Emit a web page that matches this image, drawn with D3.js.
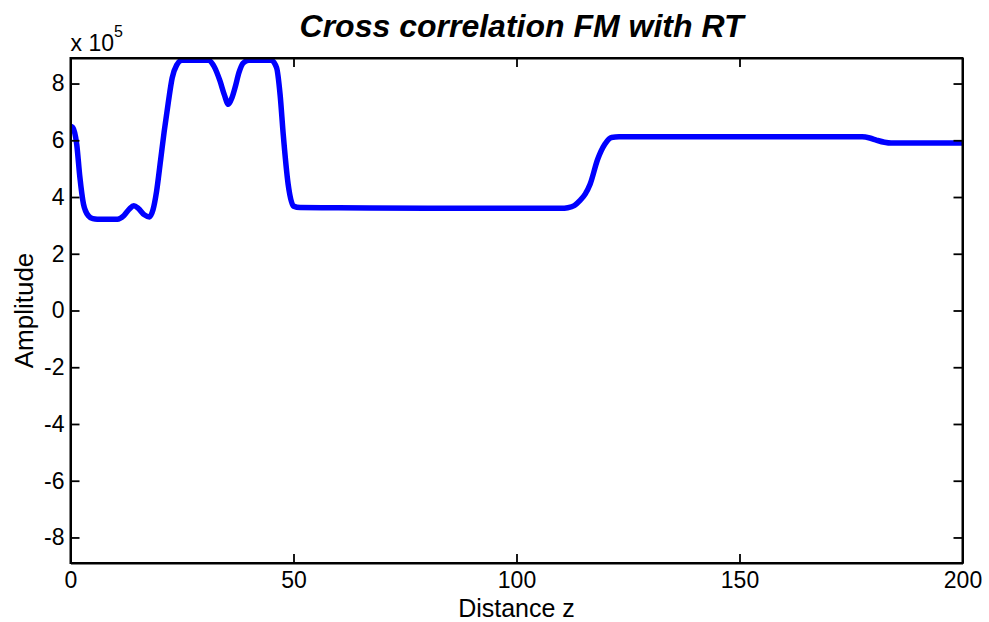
<!DOCTYPE html>
<html>
<head>
<meta charset="utf-8">
<script src="https://cdn.jsdelivr.net/npm/d3@7"></script>
<style>
  html, body { margin: 0; padding: 0; background: #fff; }
  svg { display: block; }
  text { font-family: "Liberation Sans", Arial, Helvetica, sans-serif; fill: #000; }
</style>
</head>
<body>
<svg id="chart" width="989" height="622"></svg>
<script>
// Cross-correlation amplitude (in units of 1e5) against distance z
const distanceZ = [0, 0.5, 1.4, 2.1, 2.9, 4, 5, 6, 10.5, 12, 13.2, 14.2, 15.2, 16.5, 17.7, 18.5, 19.3, 20.2, 21, 21.9, 22.8, 23.8, 25,
  30.9, 32.2, 33.5, 34.5, 35.4, 36.2, 36.9, 37.8, 38.7, 40,
  45, 46.2, 47, 47.7, 48.8, 50, 51.5, 60, 80, 100, 110, 111.5, 113, 114.2, 115.4, 116.5, 118.2, 119.8, 121.3, 123,
  150, 177.5, 179.2, 180.8, 182.5, 184, 190, 200];
const amplitude = [6.5, 6.45, 5.85, 4.7, 3.76, 3.34, 3.24, 3.22, 3.22, 3.35, 3.58, 3.69, 3.6, 3.38, 3.3, 3.55, 4.2, 5.3, 6.3, 7.3, 8.2, 8.65, 8.82,
  8.82, 8.6, 8.1, 7.6, 7.27, 7.5, 7.86, 8.4, 8.72, 8.82,
  8.82, 8.56, 7.6, 6.2, 4.45, 3.68, 3.63, 3.62, 3.6, 3.6, 3.6, 3.62, 3.7, 3.87, 4.1, 4.45, 5.33, 5.86, 6.1, 6.12,
  6.12, 6.12, 6.08, 6.0, 5.93, 5.9, 5.9, 5.9];

const xTicks = [0, 50, 100, 150, 200];
const yTicks = [-8, -6, -4, -2, 0, 2, 4, 6, 8];

const titleText = "Cross correlation FM with RT";
const xLabel = "Distance z";
const yLabel = "Amplitude";

const svg = d3.select("#chart");
const plotLeft = 70.5, plotRight = 962.5, plotTop = 58, plotBottom = 563;

const x = d3.scaleLinear().domain([0, 200]).range([plotLeft, plotRight]);
const y = d3.scaleLinear().domain([-8.9, 8.9]).range([plotBottom, plotTop]);

const tickLen = 9;
const plainNumber = d => String(d);   // ASCII hyphen for negatives

// clip region for the data line
svg.append("defs").append("clipPath").attr("id", "plotClip")
  .append("rect").attr("x", plotLeft).attr("y", plotTop)
  .attr("width", plotRight - plotLeft).attr("height", plotBottom - plotTop);

// data line
const pts = distanceZ.map((z, i) => [z, amplitude[i]]);
svg.append("path")
  .datum(pts)
  .attr("clip-path", "url(#plotClip)")
  .attr("fill", "none")
  .attr("stroke", "#0000ff")
  .attr("stroke-width", 5.5)
  .attr("stroke-linejoin", "round")
  .attr("stroke-linecap", "round")
  .attr("d", d3.line().x(d => x(d[0])).y(d => y(d[1])).curve(d3.curveMonotoneX));

// axes: bottom/left carry labels, top/right carry only inward ticks
function styleAxis(g) {
  g.selectAll("path.domain").attr("stroke", "#000").attr("stroke-width", 2);
  g.selectAll(".tick line").attr("stroke", "#000").attr("stroke-width", 1.8);
  g.selectAll(".tick text").attr("font-size", 23)
    .attr("font-family", '"Liberation Sans", Arial, sans-serif').attr("fill", "#000");
}

const gx = svg.append("g").attr("transform", `translate(0,${plotBottom})`)
  .call(d3.axisBottom(x).tickValues(xTicks).tickSizeInner(-tickLen).tickSizeOuter(0).tickFormat(plainNumber));
styleAxis(gx);
gx.selectAll(".tick text").attr("dy", "0.32em").attr("y", 18);

const gy = svg.append("g").attr("transform", `translate(${plotLeft},0)`)
  .call(d3.axisLeft(y).tickValues(yTicks).tickSizeInner(-tickLen).tickSizeOuter(0).tickFormat(plainNumber));
styleAxis(gy);
gy.selectAll(".tick text").attr("x", -6);

const gt = svg.append("g").attr("transform", `translate(0,${plotTop})`)
  .call(d3.axisTop(x).tickValues(xTicks).tickSizeInner(-tickLen).tickSizeOuter(0).tickFormat(""));
styleAxis(gt);

const gr = svg.append("g").attr("transform", `translate(${plotRight},0)`)
  .call(d3.axisRight(y).tickValues(yTicks).tickSizeInner(-tickLen).tickSizeOuter(0).tickFormat(""));
styleAxis(gr);

// box outline
svg.append("rect").attr("x", plotLeft).attr("y", plotTop)
  .attr("width", plotRight - plotLeft).attr("height", plotBottom - plotTop)
  .attr("fill", "none").attr("stroke", "#000").attr("stroke-width", 2);

// exponent marker
const expo = svg.append("text").attr("x", plotLeft).attr("y", 51).attr("font-size", 23);
expo.append("tspan").text("x 10");
expo.append("tspan").attr("font-size", 16).attr("dy", -14).text("5");

// title
svg.append("text").attr("x", (plotLeft + plotRight) / 2 + 5).attr("y", 37)
  .attr("text-anchor", "middle").attr("font-size", 32)
  .attr("font-weight", "bold").attr("font-style", "italic")
  .text(titleText);

// axis labels
svg.append("text").attr("x", (plotLeft + plotRight) / 2).attr("y", 617)
  .attr("text-anchor", "middle").attr("font-size", 25).text(xLabel);

svg.append("text").attr("transform", `translate(33,${(plotTop + plotBottom) / 2}) rotate(-90)`)
  .attr("text-anchor", "middle").attr("font-size", 26).text(yLabel);
</script>
</body>
</html>
